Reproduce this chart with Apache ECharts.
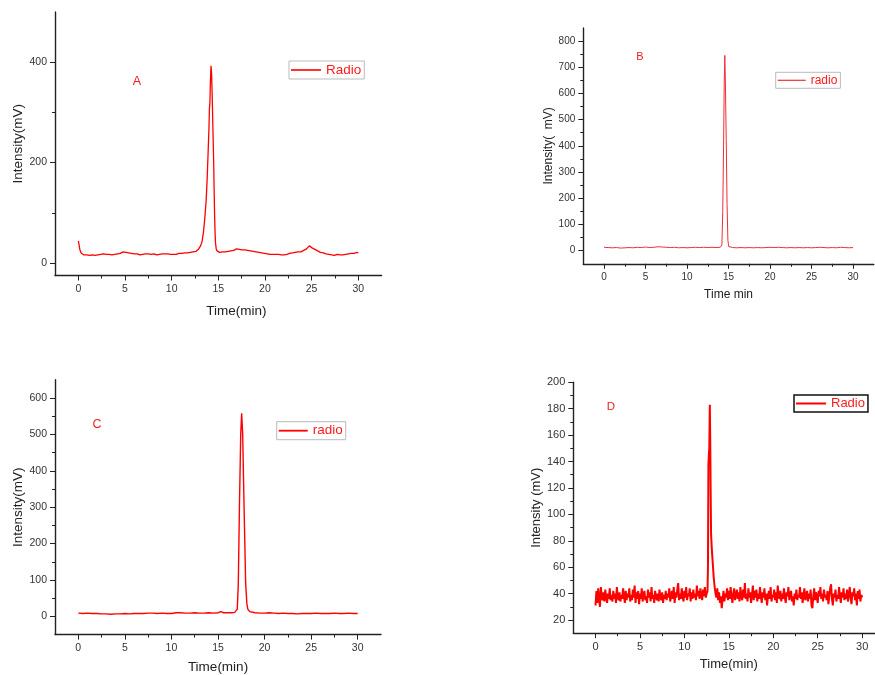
<!DOCTYPE html>
<html><head><meta charset="utf-8">
<script src="https://cdn.jsdelivr.net/npm/echarts@6/dist/echarts.min.js"></script>
<style>html,body{margin:0;padding:0;background:#fff}#c{width:875px;height:675px}</style>
</head><body><div id="c"></div>
<script>
// ---- tick labels ----
const xMajorTicks = [0, 5, 10, 15, 20, 25, 30];
const xMinorTicks = [2.5, 7.5, 12.5, 17.5, 22.5, 27.5];
const yMajorA = [0, 200, 400];
const yMinorA = [100, 300];
const yMajorB = [0, 100, 200, 300, 400, 500, 600, 700, 800];
const yMinorB = [50, 150, 250, 350, 450, 550, 650, 750];
const yMajorC = [0, 100, 200, 300, 400, 500, 600];
const yMinorC = [50, 150, 250, 350, 450, 550];
const yMajorD = [20, 40, 60, 80, 100, 120, 140, 160, 180, 200];
const yMinorD = [30, 50, 70, 90, 110, 130, 150, 170, 190];

// ---- series values: [time (min), intensity (mV)] ----
const radioA = [[0,44],[0.08,36],[0.16,27],[0.3,20],[0.45,18],[0.6,16],[0.75,18],[0.9,16],[1.05,17],[1.2,15],[1.35,17],[1.5,16],[1.65,18],[1.8,15],[1.95,17],[2.1,16],[2.25,15],[2.4,17],[2.55,16],[2.7,18],[2.85,16],[3,17],[3.15,15],[3.3,17],[3.45,18],[3.6,16],[3.75,18],[3.9,17],[4.05,19],[4.2,18],[4.35,20],[4.5,19],[4.65,21],[4.8,22],[4.95,20],[5.1,21],[5.25,19],[5.4,20],[5.55,18],[5.7,19],[5.85,17],[6,18],[6.15,16],[6.3,18],[6.45,17],[6.6,16],[6.75,18],[6.9,17],[7.05,16],[7.2,18],[7.35,17],[7.5,18],[7.65,16],[7.8,17],[7.95,16],[8.1,18],[8.25,17],[8.4,16],[8.55,18],[8.7,17],[8.85,16],[9,18],[9.15,17],[9.3,18],[9.45,16],[9.6,18],[9.75,19],[9.9,17],[10.05,18],[10.2,17],[10.35,19],[10.5,17],[10.65,18],[10.8,19],[10.95,18],[11.1,19],[11.25,18],[11.4,20],[11.55,19],[11.7,20],[11.85,19],[12,21],[12.15,20],[12.3,22],[12.45,21],[12.6,23],[12.75,25],[12.9,28],[13,31],[13.1,34],[13.25,42],[13.4,60],[13.55,88],[13.7,125],[13.8,165],[13.9,215],[14,270],[14.05,308],[14.1,318],[14.15,360],[14.22,393],[14.28,378],[14.35,330],[14.42,270],[14.5,205],[14.55,150],[14.6,98],[14.65,62],[14.7,40],[14.78,28],[14.87,24],[15,23],[15.15,21],[15.3,23],[15.45,22],[15.6,24],[15.75,22],[15.9,24],[16.05,23],[16.2,25],[16.35,24],[16.5,26],[16.65,25],[16.8,27],[16.95,28],[17.1,26],[17.25,27],[17.4,25],[17.55,26],[17.7,24],[17.85,26],[18,24],[18.15,25],[18.3,23],[18.45,24],[18.6,22],[18.75,23],[18.9,21],[19.05,22],[19.2,20],[19.35,21],[19.5,19],[19.65,20],[19.8,18],[19.95,19],[20.1,17],[20.25,18],[20.4,16],[20.55,17],[20.7,16],[20.85,17],[21,15],[21.15,17],[21.3,16],[21.45,17],[21.6,15],[21.75,16],[21.9,17],[22.05,16],[22.2,18],[22.35,17],[22.5,18],[22.65,19],[22.8,18],[22.95,20],[23.1,19],[23.25,21],[23.4,20],[23.55,22],[23.7,23],[23.85,22],[24,24],[24.15,25],[24.3,26],[24.45,28],[24.6,31],[24.75,34],[24.9,32],[25.05,30],[25.2,28],[25.35,27],[25.5,25],[25.65,24],[25.8,23],[25.95,21],[26.1,22],[26.25,20],[26.4,19],[26.55,18],[26.7,19],[26.85,17],[27,18],[27.15,16],[27.3,17],[27.45,15],[27.6,16],[27.75,17],[27.9,15],[28.05,16],[28.2,17],[28.35,16],[28.5,18],[28.65,17],[28.8,19],[28.95,18],[29.1,20],[29.25,19],[29.4,21],[29.55,19],[29.7,20],[29.85,21],[30,20]];

const radioB = [[0,13],[0.5,12],[1,11],[1.5,12],[2,10],[2.5,11],[3,12],[3.5,11],[4,13],[4.5,12],[5,14],[5.5,12],[6,13],[6.5,15],[7,14],[7.5,13],[8,12],[8.5,13],[9,11],[9.5,12],[10,11],[10.5,12],[11,13],[11.5,12],[12,13],[12.5,12],[13,13],[13.5,12],[14,13],[14.1,14],[14.2,22],[14.3,150],[14.4,400],[14.48,640],[14.55,745],[14.62,640],[14.72,420],[14.82,180],[14.92,40],[15.02,16],[15.2,13],[15.5,12],[16,11],[16.5,12],[17,11],[17.5,12],[18,11],[18.5,12],[19,11],[19.5,12],[20,13],[20.5,12],[21,13],[21.5,12],[22,11],[22.5,12],[23,11],[23.5,12],[24,11],[24.5,12],[25,11],[25.5,12],[26,13],[26.5,12],[27,11],[27.5,12],[28,11],[28.5,13],[29,12],[29.5,11],[30,12]];

const radioC = [[0,9],[0.5,8],[1,9],[1.5,8],[2,8],[2.5,7],[3,7],[3.5,6],[4,7],[4.5,7],[5,8],[5.5,7],[6,8],[6.5,8],[7,8],[7.5,9],[8,9],[8.5,8],[9,9],[9.5,8],[10,8],[10.5,10],[10.7,13],[11,10],[11.5,9],[12,9],[12.5,10],[13,9],[13.5,9],[14,10],[14.5,9],[15,10],[15.3,13],[15.6,10],[16,10],[16.5,10],[16.8,11],[17,12],[17.07,20],[17.18,90],[17.3,300],[17.44,500],[17.54,558],[17.65,500],[17.8,300],[17.97,90],[18.1,35],[18.2,20],[18.4,13],[18.6,11],[19,10],[19.5,9],[20,9],[20.5,10],[21,9],[21.5,8],[22,9],[22.5,8],[23,8],[23.5,7],[24,8],[24.5,8],[25,8],[25.5,9],[26,8],[26.5,8],[27,8],[27.5,9],[28,8],[28.5,8],[29,9],[29.5,8],[30,8]];

// Panel D: detector readings sampled every 0.1 min; each row = [start time, readings]
const SAMPLE_STEP_D = 0.1;
const radioDRows = [
  [0.0,  [31,42,33,44,36,30,45,38,35,41]],
  [1.0,  [34,43,37,33,40,36,44,35,39,34]],
  [2.0,  [42,36,40,33,45,37,35,41,34,39]],
  [3.0,  [36,44,38,33,42,35,40,37,44,34]],
  [4.0,  [39,35,43,37,46,33,41,36,42,32]],
  [5.0,  [40,36,44,34,39,42,35,38,33,43]],
  [6.0,  [37,41,34,45,36,39,33,42,38,35]],
  [7.0,  [40,34,43,37,35,41,33,39,36,42]],
  [8.0,  [35,40,37,44,34,38,42,36,45,33]],
  [9.0,  [41,37,43,48,35,40,36,44,38,34]],
  [10.0, [42,37,45,35,40,38,44,34,41,36]],
  [11.0, [43,37,40,35,46,38,42,36,44,39]],
  [12.0, [35,43,38,45,37,40]],
  [13.5, [40,37,44,35,41]],
  [14.0, [33,38,29,36,42,34,40,37,44,35]],
  [15.0, [42,36,45,38,33,40,44,35,39,43]],
  [16.0, [36,41,34,45,38,35,43,37,48,36]],
  [17.0, [40,34,44,37,41,33,39,46,35,42]],
  [18.0, [37,43,34,40,36,45,38,33,41,37]],
  [19.0, [44,35,40,31,38,42,36,45,34,39]],
  [20.0, [37,43,35,41,33,46,38,36,42,34]],
  [21.0, [40,36,44,37,33,41,38,45,35,39]],
  [22.0, [42,34,38,31,40,36,43,35,39,37]],
  [23.0, [45,36,41,33,39,44,35,38,42,34]],
  [24.0, [40,36,43,31,29,38,44,35,41,37]],
  [25.0, [33,42,38,45,36,40,34,43,37,39]],
  [26.0, [35,42,32,38,44,47,36,31,40,37]],
  [27.0, [43,34,39,36,45,38,33,41,37,44]],
  [28.0, [35,40,36,43,34,39,45,37,32,41]],
  [29.0, [38,44,35,40,31,42,36,43,34,39]],
  [30.0, [37]]
];
const peakD = [[12.6,42],[12.65,60],[12.7,137],[12.75,145],[12.8,150],[12.86,183],[12.9,160],[12.95,120],[13.0,85],[13.05,78],[13.1,72],[13.2,62],[13.3,52],[13.4,45]];

// build panel D series
const radioD = [];
radioDRows.forEach(function (row) {
  row[1].forEach(function (v, i) {
    radioD.push([+(row[0] + i * SAMPLE_STEP_D).toFixed(2), v]);
  });
});
peakD.forEach(function (p) { radioD.push(p); });
radioD.sort(function (a, b) { return a[0] - b[0]; });

// ---- rendering ----
const FONT = 'Liberation Sans, Arial, Helvetica, sans-serif';
const AX = '#222';

function xPair(g, nameText, nameGap, fs, ns, namePad) {
  return [
    { type: 'value', gridIndex: g, min: -2.5, max: 32.5, position: 'bottom',
      name: nameText, nameLocation: 'middle', nameGap: nameGap,
      nameTextStyle: { fontSize: ns, color: '#222', fontFamily: FONT, padding: namePad || 0 },
      axisLine: { show: true, onZero: false, lineStyle: { color: AX, width: 1.4 } },
      axisTick: { show: true, inside: false, length: 5, customValues: xMajorTicks, lineStyle: { color: AX, width: 1 } },
      axisLabel: { show: true, customValues: xMajorTicks, margin: 8, fontSize: fs, color: '#333', fontFamily: FONT },
      splitLine: { show: false } },
    { type: 'value', gridIndex: g, min: -2.5, max: 32.5, position: 'bottom',
      axisLine: { show: false, onZero: false },
      axisTick: { show: true, inside: false, length: 3, customValues: xMinorTicks, lineStyle: { color: AX, width: 1 } },
      axisLabel: { show: false }, splitLine: { show: false } }
  ];
}
function yPair(g, min, max, major, minor, nameText, nameGap, fs, ns, namePad) {
  return [
    { type: 'value', gridIndex: g, min: min, max: max, position: 'left',
      name: nameText, nameLocation: 'middle', nameGap: nameGap,
      nameTextStyle: { fontSize: ns, color: '#222', fontFamily: FONT, padding: namePad || 0 },
      axisLine: { show: true, onZero: false, lineStyle: { color: AX, width: 1.4 } },
      axisTick: { show: true, inside: false, length: 5, customValues: major, lineStyle: { color: AX, width: 1 } },
      axisLabel: { show: true, customValues: major, margin: 8, fontSize: fs, color: '#333', fontFamily: FONT },
      splitLine: { show: false } },
    { type: 'value', gridIndex: g, min: min, max: max, position: 'left',
      axisLine: { show: false, onZero: false },
      axisTick: { show: true, inside: false, length: 3, customValues: minor, lineStyle: { color: AX, width: 1 } },
      axisLabel: { show: false }, splitLine: { show: false } }
  ];
}
function legendBox(name, label, left, top, fs, iw, ih, border, bw) {
  return { data: [name], formatter: label, left: left, top: top, orient: 'horizontal',
    icon: 'rect', itemWidth: iw, itemHeight: ih, itemGap: 0, padding: [2, 3, 2, 2],
    borderColor: border, borderWidth: bw, selectedMode: false,
    textStyle: { color: '#ff1a1a', fontSize: fs, fontFamily: FONT } };
}
function lineSeries(name, xi, yi, data, color, w) {
  return { type: 'line', name: name, xAxisIndex: xi, yAxisIndex: yi, data: data,
    showSymbol: false, symbol: 'none', silent: true, animation: false, clip: true,
    lineStyle: { color: color, width: w }, itemStyle: { color: color } };
}

const chart = echarts.init(document.getElementById('c'), null, { renderer: 'canvas' });
chart.setOption({
  backgroundColor: '#fff',
  animation: false,
  grid: [
    { left: 55, top: 12, width: 326.6, height: 263.5, outerBoundsMode: 'none' },
    { left: 583.3, top: 27.9, width: 290.5, height: 235.9, outerBoundsMode: 'none' },
    { left: 55, top: 379.8, width: 326, height: 254.8, outerBoundsMode: 'none' },
    { left: 573.3, top: 382.3, width: 311.1, height: 250.9, outerBoundsMode: 'none' }
  ],
  xAxis: [].concat(
    xPair(0, 'Time(min)', 28.5, 10.5, 13.5, [0, 0, 0, 36]),
    xPair(1, 'Time min', 25, 10, 12),
    xPair(2, 'Time(min)', 25.5, 10.5, 13.5),
    xPair(3, 'Time(min)', 25, 11, 13)
  ),
  yAxis: [].concat(
    yPair(0, -25, 500, yMajorA, yMinorA, 'Intensity(mV)', 30, 10.5, 13.5),
    yPair(1, -50, 850, yMajorB, yMinorB, 'Intensity(  mV)', 28, 10, 12, [0, 0, 0, 0]),
    yPair(2, -50, 650, yMajorC, yMinorC, 'Intensity(mV)', 30, 10.5, 13.5),
    yPair(3, 10, 200, yMajorD, yMinorD, 'Intensity (mV)', 29, 11, 13)
  ),
  legend: [
    legendBox('Radio (A)', 'Radio', 289, 61, 13.5, 30, 1.6, '#bbb', 1),
    legendBox('radio (B)', 'radio', 775.7, 72.3, 12, 28, 1.2, '#bbb', 1),
    legendBox('radio (C)', 'radio', 276.7, 421.7, 13.5, 29, 1.8, '#bbb', 1),
    legendBox('Radio (D)', 'Radio', 794, 395, 13, 30, 2, '#111', 1.5)
  ],
  graphic: [
    { type: 'text', x: 137, y: 82, style: { text: 'A', fill: '#f01e1e', fontSize: 12.5, fontFamily: FONT, align: 'center', verticalAlign: 'middle' } },
    { type: 'text', x: 640, y: 57, style: { text: 'B', fill: '#f01e1e', fontSize: 11, fontFamily: FONT, align: 'center', verticalAlign: 'middle' } },
    { type: 'text', x: 97, y: 425, style: { text: 'C', fill: '#f01e1e', fontSize: 12.5, fontFamily: FONT, align: 'center', verticalAlign: 'middle' } },
    { type: 'text', x: 611, y: 407, style: { text: 'D', fill: '#f01e1e', fontSize: 11.5, fontFamily: FONT, align: 'center', verticalAlign: 'middle' } }
  ],
  series: [
    lineSeries('Radio (A)', 0, 0, radioA, '#ff0000', 1.3),
    lineSeries('radio (B)', 2, 2, radioB, '#ee2f38', 1),
    lineSeries('radio (C)', 4, 4, radioC, '#ff0000', 1.4),
    lineSeries('Radio (D)', 6, 6, radioD, '#ff0000', 2)
  ]
});
</script>
</body></html>
